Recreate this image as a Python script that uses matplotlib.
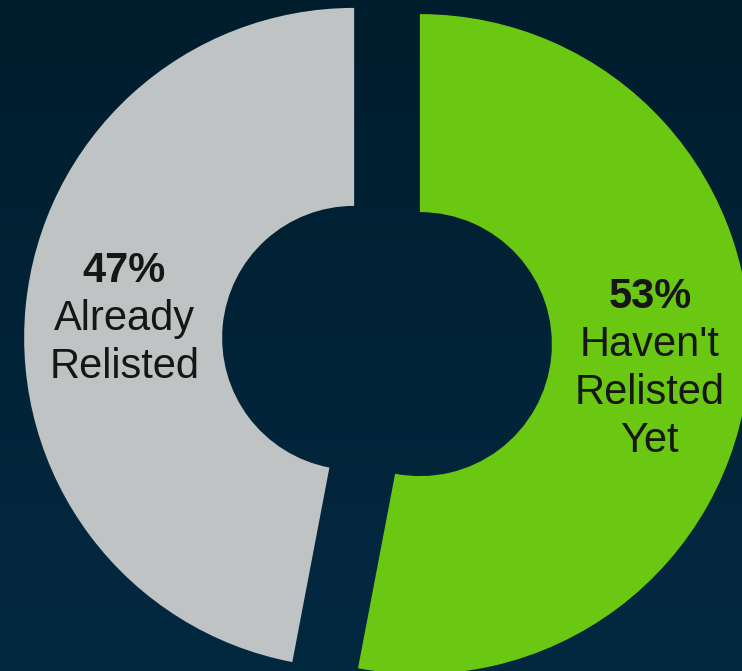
import numpy as np
import matplotlib.pyplot as plt

# relisting status split
labels = ["Haven't\nRelisted\nYet", "Already\nRelisted"]
shares = [53, 47]
colors = ["#6BC812", "#BFC3C4"]

plt.rcParams['font.family'] = ['Liberation Sans', 'DejaVu Sans']

fig = plt.figure(figsize=(7.42, 6.71), dpi=100)

# dark navy backdrop, slightly lighter toward the bottom
bg = fig.add_axes([0, 0, 1, 1], zorder=0)
grad = np.linspace(0, 1, 256).reshape(-1, 1)
top = np.array([0x00, 0x1d, 0x2d]) / 255
bot = np.array([0x03, 0x29, 0x41]) / 255
img = top + grad[..., None] * (bot - top)
bg.imshow(img, aspect="auto", extent=[0, 1, 0, 1])
bg.axis("off")

ax = fig.add_axes([0, 0, 1, 1], zorder=1)
ax.patch.set_alpha(0)

wedges, _ = ax.pie(shares, colors=colors, startangle=90, counterclock=False,
                   radius=1.0, explode=[0.1, 0.1],
                   wedgeprops=dict(width=0.6, linewidth=0))

# one data unit = 330 px; pie centre sits at (387, 341) px from top-left
ax.set_xlim(-387 / 330, (742 - 387) / 330)
ax.set_ylim(-(671 - 341) / 330, 341 / 330)
ax.set_aspect("auto")
ax.axis("off")

line_h = 48 / 330
for w, share, lab in zip(wedges, shares, labels):
    mid = np.deg2rad((w.theta1 + w.theta2) / 2)
    cx, cy = w.center
    x = cx + 0.7 * np.cos(mid)
    y = cy + 0.7 * np.sin(mid) - 3 / 330
    lines = [f"{share}%"] + lab.split("\n")
    n = len(lines)
    for i, txt in enumerate(lines):
        yy = y + ((n - 1) / 2 - i) * line_h
        ax.text(x, yy, txt, ha="center", va="center", fontsize=30,
                color="#161616", fontweight="bold" if i == 0 else "normal")

fig.savefig("out.png", dpi=100)
